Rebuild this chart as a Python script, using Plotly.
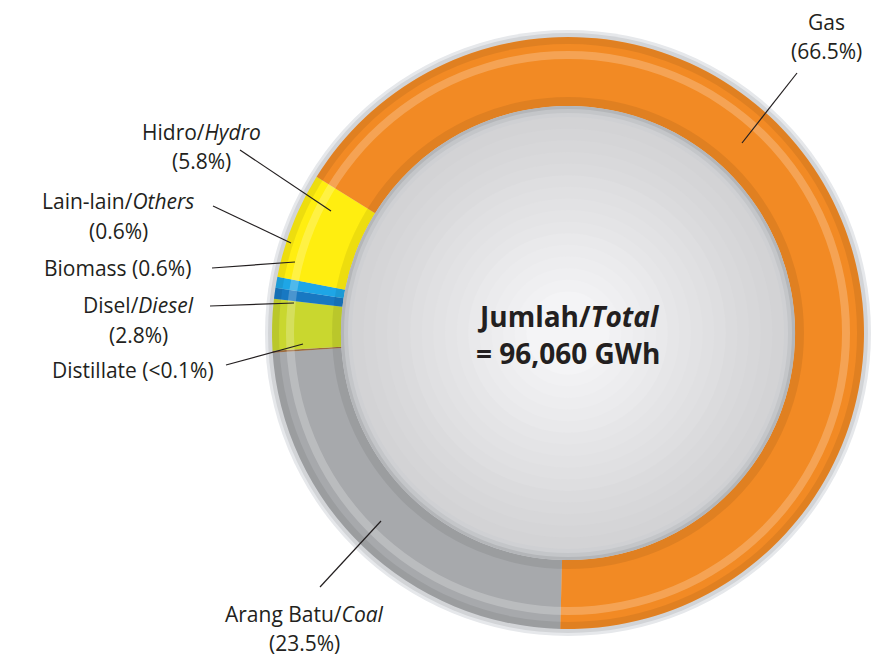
import plotly.graph_objects as go

# ---- data ----
sources = ["Arang Batu/Coal", "Distillate", "Disel/Diesel", "Biomass",
           "Lain-lain/Others", "Hidro/Hydro", "Gas"]
shares = [23.5, 0.1, 2.8, 0.6, 0.6, 5.8, 66.5]
colors = ["#A7A9AC", "#9C6B3F", "#C9D72F", "#1878C2", "#1EA6E6", "#FFEE10", "#F28A24"]
total_text = ["Jumlah/<i>Total</i>", "= 96,060 GWh"]

W, H = 881, 658
OFF = 8  # page body margin
CX, CY = 568, 333
R_OUT, R_IN = 296, 227


def dom(r):
    cx, cy = CX - OFF, CY - OFF
    return dict(x=[(cx - r) / W, (cx + r) / W], y=[(H - cy - r) / H, (H - cy + r) / H])


def disk(r, color, hole=0):
    return go.Pie(values=[1], marker=dict(colors=[color], line=dict(width=0)),
                  domain=dom(r), hole=hole, sort=False, textinfo="none",
                  hoverinfo="skip", showlegend=False)


fig = go.Figure()
# outer bezel
fig.add_trace(disk(303, "#e6e8eb"))
fig.add_trace(disk(300, "#d2d4d7"))
# main ring
fig.add_trace(go.Pie(labels=sources, values=shares, sort=False, direction="clockwise",
                     rotation=181.5, hole=R_IN / R_OUT, domain=dom(R_OUT),
                     marker=dict(colors=colors, line=dict(width=0)),
                     textinfo="none", hoverinfo="label+percent", showlegend=False))
# ring shading
fig.add_trace(disk(R_OUT, "rgba(0,0,0,0.07)", hole=289 / R_OUT))
fig.add_trace(disk(282, "rgba(255,255,255,0.22)", hole=274 / 282))
fig.add_trace(disk(236, "rgba(0,0,0,0.07)", hole=R_IN / 236))
# inner metallic disk
inner_layers = [(227, "#b4b6b9"), (224, "#c4c6c9"), (220, "#cfd0d3")]
steps = 16
for i in range(steps):
    r = 216 - i * (216 - 30) / steps
    g = int(0xd3 + (0xf4 - 0xd3) * i / (steps - 1))
    inner_layers.append((r, "#%02x%02x%02x" % (g, g, min(255, g + 2))))
for r, c in inner_layers:
    fig.add_trace(disk(r, c))

TXT = "#231f20"
FONT = "Open Sans"


def px(x, y):
    return (x - OFF) / W, 1 - (y - OFF) / H


annotations = []


def label(text, x, y, size=21):
    X, Y = px(x, y)
    annotations.append(dict(text=text, x=X, y=Y, xref="paper", yref="paper",
                            showarrow=False, xanchor="center", yanchor="middle",
                            font=dict(family=FONT, size=size, color=TXT)))


shapes = []


def leader(x0, y0, x1, y1):
    X0, Y0 = px(x0, y0)
    X1, Y1 = px(x1, y1)
    shapes.append(dict(type="line", xref="paper", yref="paper", x0=X0, y0=Y0,
                       x1=X1, y1=Y1, line=dict(color=TXT, width=1.2)))


label("Gas", 826, 22)
label("(66.5%)", 826, 51)
leader(797, 73, 742, 143)

label("Hidro/<i>Hydro</i>", 201, 132)
label("(5.8%)", 201, 161)
leader(240, 150, 331, 211)

label("Lain-lain/<i>Others</i>", 118, 201)
label("(0.6%)", 118, 231)
leader(213, 206, 291, 243)

label("Biomass (0.6%)", 117, 268)
leader(212, 268, 295, 262)

label("Disel/<i>Diesel</i>", 138, 305)
label("(2.8%)", 138, 335)
leader(210, 306, 294, 303)

label("Distillate (<0.1%)", 133, 370)
leader(226, 365, 303, 344)

label("Arang Batu/<i>Coal</i>", 304, 614)
label("(23.5%)", 304, 643)
leader(320, 587, 381, 521)

label("<b>" + total_text[0] + "</b>", CX, 316, size=28)
label("<b>" + total_text[1] + "</b>", CX, 353, size=28)

fig.update_layout(width=W, height=H, margin=dict(l=0, r=0, t=0, b=0),
                  paper_bgcolor="white", plot_bgcolor="white",
                  annotations=annotations, shapes=shapes)

fig.write_html("out.html")
